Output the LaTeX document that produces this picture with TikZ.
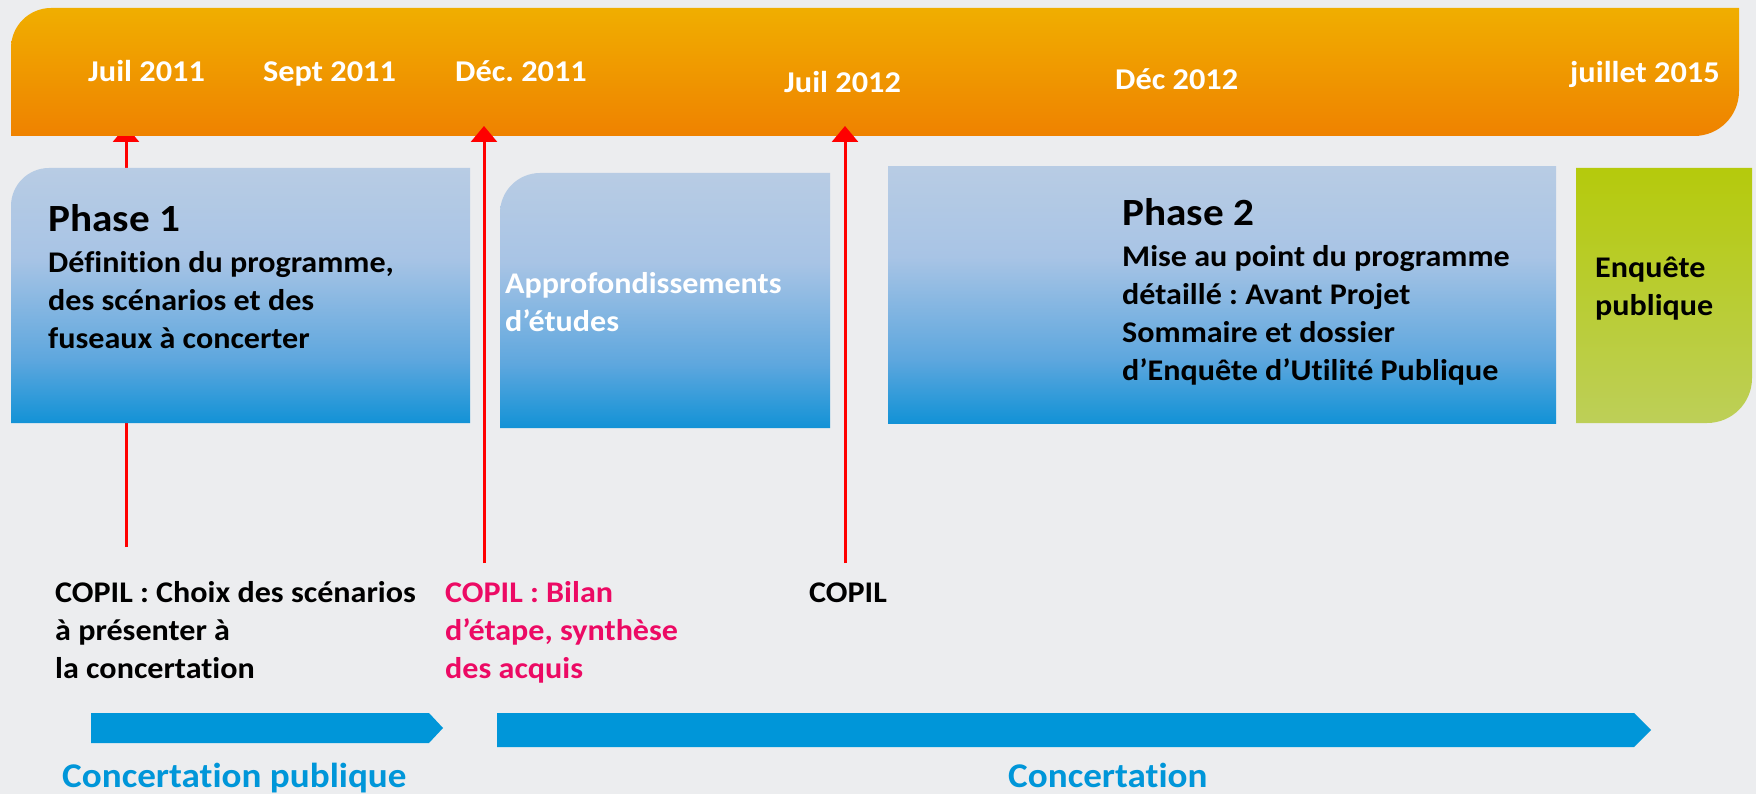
\documentclass[tikz,border=0pt]{standalone}
\usepackage{fontspec}
\setmainfont{Carlito}[Ligatures=NoCommon, FakeStretch=1.07]
\usetikzlibrary{arrows.meta}
\frenchspacing
\definecolor{bgc}{HTML}{ECEDEF}
\definecolor{orT}{HTML}{F0AE00}
\definecolor{orB}{HTML}{EF8200}
\definecolor{bT}{HTML}{B8CCE4}
\definecolor{bM1}{HTML}{A8C4E5}
\definecolor{bM2}{HTML}{5EA7DE}
\definecolor{bB}{HTML}{1292D6}
\definecolor{gT}{HTML}{B5CA0C}
\definecolor{gB}{HTML}{BDCF58}
\definecolor{chev}{HTML}{0096D9}
\definecolor{pinkc}{HTML}{EC0A64}
\definecolor{redc}{HTML}{FF0000}
\pgfdeclareverticalshading{bluegrad}{100bp}{color(0bp)=(bB); color(25bp)=(bB); color(37.5bp)=(bM2); color(57.5bp)=(bM1); color(75bp)=(bT); color(100bp)=(bT)}
\tikzset{
  datelbl/.style={anchor=base west, inner sep=0pt, text=white, font=\fontsize{30.2}{38}\selectfont\bfseries},
  titlelbl/.style={anchor=base west, inner sep=0pt, text=black, font=\fontsize{38.5}{42}\selectfont\bfseries},
  bodylbl/.style={anchor=base west, inner sep=0pt, align=left, text=black, font=\fontsize{30}{38.3}\selectfont\bfseries},
  bigblue/.style={anchor=base west, inner sep=0pt, text=chev, font=\fontsize{34.7}{40}\selectfont\bfseries},
  redarrow/.style={draw=redc, line width=3pt, -{Triangle[width=26pt,length=16pt]}},
}
\begin{document}
\begin{tikzpicture}[x=1pt,y=-1pt]
\fill[bgc] (0,0) rectangle (1756,794);
\useasboundingbox (0,0) rectangle (1756,794);
% coordinates for arrows
\coordinate (a1s) at (126,547); \coordinate (a1e) at (126,126);
\coordinate (a2s) at (484,563); \coordinate (a2e) at (484,126);
\coordinate (a3s) at (845,563); \coordinate (a3e) at (845,126);
% arrow behind
\draw[redarrow] (a1s) -- (a1e);
% orange bar
\shade[top color=orT, bottom color=orB]
  (11,136) -- (11,48) .. controls (11,26) and (29,8) .. (51,8)
  -- (1739,8) -- (1739,91) .. controls (1739,116) and (1719,136) .. (1694,136) -- cycle;
% phase 1 box
\shade[shading=bluegrad]
  (11,423) -- (11,206) .. controls (11,185) and (28,168) .. (49,168)
  -- (470,168) -- (470,423) -- cycle;
% approfondissements box
\shade[shading=bluegrad]
  (500,428) -- (500,213) .. controls (500,191) and (518,173) .. (540,173)
  -- (830,173) -- (830,428) -- cycle;
% phase 2 box
\shade[shading=bluegrad] (888,167) rectangle (1556,423);
% enquete box
\shade[top color=gT, bottom color=gB]
  (1576,168) -- (1752,168) -- (1752,378) .. controls (1752,403) and (1732,423) .. (1707,423)
  -- (1576,423) -- cycle;
% arrows in front
\draw[redarrow] (a2s) -- (a2e);
\draw[redarrow] (a3s) -- (a3e);
% chevrons
\fill[chev] (91,713) -- (429,713) -- (443,728) -- (429,743) -- (91,743) -- cycle;
\fill[chev] (497,713) -- (1634,713) -- (1651,730) -- (1634,747) -- (497,747) -- cycle;
% dates
\node[datelbl] (d1) at (88,82) {Juil 2011};
\node[datelbl] (d2) at (263,82) {Sept 2011};
\node[datelbl] (d3) at (455,82) {Déc. 2011};
\node[datelbl] (d4) at (784,93) {Juil 2012};
\node[datelbl] (d5) at (1115,90) {Déc 2012};
\node[datelbl] (d6) at (1570,83) {juillet 2015};
% box texts (base west = baseline of last line)
\node[titlelbl] (p1t) at (48,232) {Phase 1};
\node[bodylbl] (p1b) at (48,348.6) {Définition du programme,\\des scénarios et des\\fuseaux à concerter};
\node[bodylbl, text=white] (apb) at (505,331.3) {Approfondissements\\d’études};
\node[titlelbl] (p2t) at (1122,226) {Phase 2};
\node[bodylbl] (p2b) at (1122,380.9) {Mise au point du programme\\détaillé : Avant Projet\\Sommaire et dossier\\d’Enquête d’Utilité Publique};
\node[bodylbl] (enq) at (1595,315.5) {Enquête\\publique};
% copil texts
\node[bodylbl] (c1) at (55,678.6) {COPIL : Choix des scénarios\\à présenter à\\la concertation};
\node[bodylbl, text=pinkc] (c2) at (445,678.6) {COPIL : Bilan\\d’étape, synthèse\\des acquis};
\node[bodylbl] (c3) at (809,602) {COPIL};
% concertation labels
\node[bigblue] (cp) at (62,787) {Concertation publique};
\node[bigblue] (cc) at (1008,787) {Concertation};
\end{tikzpicture}
\end{document}
